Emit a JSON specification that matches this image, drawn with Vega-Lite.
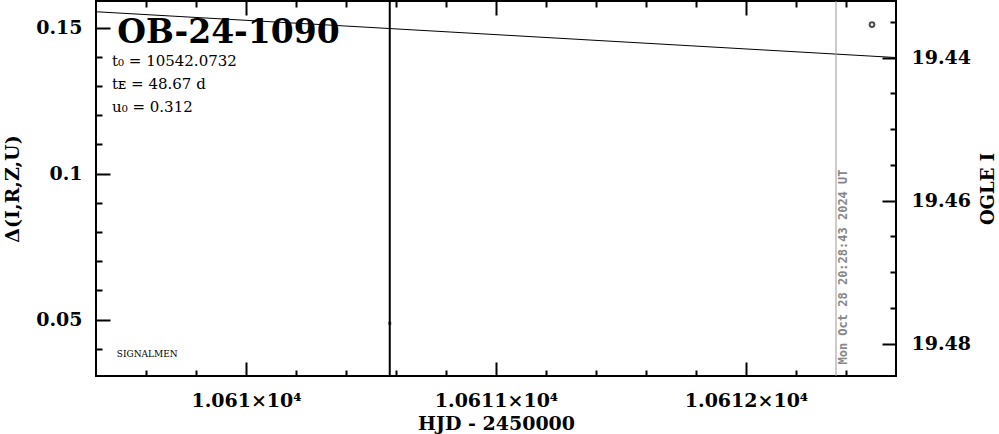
{
  "$schema": "https://vega.github.io/schema/vega-lite/v6.json",
  "width": 800,
  "height": 375,
  "autosize": {"type": "none"},
  "padding": {"left": 96, "top": 1, "right": 103, "bottom": 58},
  "background": "white",
  "config": {
    "view": {"stroke": "black", "strokeWidth": 2},
    "axis": {
      "grid": false,
      "domain": false,
      "tickColor": "black",
      "tickWidth": 2,
      "labelFont": "DejaVu Serif",
      "labelFontWeight": "bold",
      "labelFontSize": 19,
      "labelColor": "black",
      "titleFont": "DejaVu Serif",
      "titleFontWeight": "bold",
      "titleFontSize": 19,
      "titleColor": "black"
    }
  },
  "datasets": {
    "model": [
      {"hjd": 10609.4, "mag": 19.4336},
      {"hjd": 10609.8, "mag": 19.4344},
      {"hjd": 10610.2, "mag": 19.4352},
      {"hjd": 10610.6, "mag": 19.4360},
      {"hjd": 10611.0, "mag": 19.4368},
      {"hjd": 10611.4, "mag": 19.4376},
      {"hjd": 10611.8, "mag": 19.4384},
      {"hjd": 10612.2, "mag": 19.4392},
      {"hjd": 10612.6, "mag": 19.4400}
    ],
    "obs": [{"hjd": 10612.504, "mag": 19.4354}],
    "marker": [{"hjd": 10610.575}],
    "stamp": [{"hjd": 10612.36, "mag": 19.4829, "label": "Mon Oct 28 20:28:43 2024 UT"}],
    "delta": [{"hjd": 10610.575, "delta": 0.0487}],
    "event": [{"hjd": 10609.485, "delta": 0.1447, "label": "OB-24-1090"}],
    "params": [
      {"hjd": 10609.464, "delta": 0.1368, "label": "t₀ = 10542.0732"},
      {"hjd": 10609.464, "delta": 0.1289, "label": "tᴇ = 48.67 d"},
      {"hjd": 10609.464, "delta": 0.1211, "label": "u₀ = 0.312"}
    ],
    "credit": [{"hjd": 10609.483, "delta": 0.0372, "label": "SIGNALMEN"}]
  },
  "layer": [
    {
      "data": {"name": "model"},
      "mark": {"type": "line", "color": "black", "strokeWidth": 1},
      "encoding": {
        "x": {"field": "hjd", "type": "quantitative",
          "scale": {"domain": [10609.4, 10612.6], "nice": false, "zero": false},
          "axis": {"orient": "bottom", "values": [10610, 10611, 10612], "tickSize": -14, "labelPadding": 29,
            "labelExpr": "format(datum.value/10000, '.5~f') + '×10⁴'", "title": "HJD - 2450000", "titlePadding": 4}},
        "y": {"field": "mag", "type": "quantitative",
          "scale": {"domain": [19.4321, 19.4845], "reverse": true, "nice": false, "zero": false},
          "axis": {"orient": "right", "values": [19.44, 19.46, 19.48], "format": ".2f", "tickSize": -14, "labelPadding": 29,
            "title": "OGLE I", "titleAngle": 270, "titleBaseline": "top", "titlePadding": 9, "titleFontSize": 18}}
      }
    },
    {
      "data": {"name": "obs"},
      "mark": {"type": "point", "shape": "circle", "filled": false, "color": "black", "size": 22, "strokeWidth": 2},
      "encoding": {
        "x": {"field": "hjd", "type": "quantitative",
          "scale": {"domain": [10609.4, 10612.6], "nice": false, "zero": false},
          "axis": {"orient": "bottom", "values": [10609.6, 10609.8, 10610.2, 10610.4, 10610.6, 10610.8, 10611.2, 10611.4, 10611.6, 10611.8, 10612.2, 10612.4],
            "tickSize": -6, "labels": false, "title": null}},
        "y": {"field": "mag", "type": "quantitative",
          "scale": {"domain": [19.4321, 19.4845], "reverse": true, "nice": false, "zero": false},
          "axis": {"orient": "right", "values": [19.435, 19.445, 19.45, 19.455, 19.465, 19.47, 19.475],
            "tickSize": -6, "labels": false, "title": null}}
      }
    },
    {
      "data": {"name": "marker"},
      "mark": {"type": "rule", "color": "black", "strokeWidth": 2},
      "encoding": {
        "x": {"field": "hjd", "type": "quantitative",
          "scale": {"domain": [10609.4, 10612.6], "nice": false, "zero": false},
          "axis": {"orient": "top", "values": [10610, 10611, 10612], "tickSize": -14, "labels": false, "title": null}}
      }
    },
    {
      "data": {"name": "stamp"},
      "mark": {"type": "rule", "color": "#999999", "strokeWidth": 1},
      "encoding": {
        "x": {"field": "hjd", "type": "quantitative",
          "scale": {"domain": [10609.4, 10612.6], "nice": false, "zero": false},
          "axis": {"orient": "top", "values": [10609.6, 10609.8, 10610.2, 10610.4, 10610.6, 10610.8, 10611.2, 10611.4, 10611.6, 10611.8, 10612.2, 10612.4],
            "tickSize": -6, "labels": false, "title": null}}
      }
    },
    {
      "data": {"name": "delta"},
      "mark": {"type": "square", "filled": true, "color": "black", "size": 9},
      "encoding": {
        "x": {"field": "hjd", "type": "quantitative",
          "scale": {"domain": [10609.4, 10612.6], "nice": false, "zero": false}, "axis": null},
        "y": {"field": "delta", "type": "quantitative",
          "scale": {"domain": [0.03065, 0.15908], "nice": false, "zero": false},
          "axis": {"orient": "left", "values": [0.05, 0.1, 0.15], "format": ".2~f", "tickSize": -14, "labelPadding": 28,
            "title": "Δ(I,R,Z,U)", "titlePadding": 13}}
      }
    },
    {
      "data": {"name": "event"},
      "mark": {"type": "text", "align": "left", "baseline": "alphabetic", "font": "DejaVu Serif", "fontWeight": "bold", "fontSize": 33, "color": "black"},
      "encoding": {
        "x": {"field": "hjd", "type": "quantitative",
          "scale": {"domain": [10609.4, 10612.6], "nice": false, "zero": false}, "axis": null},
        "y": {"field": "delta", "type": "quantitative",
          "scale": {"domain": [0.03065, 0.15908], "nice": false, "zero": false},
          "axis": {"orient": "left", "values": [0.04, 0.06, 0.07, 0.08, 0.09, 0.11, 0.12, 0.13, 0.14],
            "tickSize": -6, "labels": false, "title": null}},
        "text": {"field": "label"}
      }
    },
    {
      "data": {"name": "params"},
      "mark": {"type": "text", "align": "left", "baseline": "alphabetic", "font": "DejaVu Serif", "fontSize": 15, "color": "black"},
      "encoding": {
        "x": {"field": "hjd", "type": "quantitative",
          "scale": {"domain": [10609.4, 10612.6], "nice": false, "zero": false}, "axis": null},
        "y": {"field": "delta", "type": "quantitative",
          "scale": {"domain": [0.03065, 0.15908], "nice": false, "zero": false}, "axis": null},
        "text": {"field": "label"}
      }
    },
    {
      "data": {"name": "credit"},
      "mark": {"type": "text", "align": "left", "baseline": "alphabetic", "font": "DejaVu Serif", "fontSize": 9, "color": "black"},
      "encoding": {
        "x": {"field": "hjd", "type": "quantitative",
          "scale": {"domain": [10609.4, 10612.6], "nice": false, "zero": false}, "axis": null},
        "y": {"field": "delta", "type": "quantitative",
          "scale": {"domain": [0.03065, 0.15908], "nice": false, "zero": false}, "axis": null},
        "text": {"field": "label"}
      }
    },
    {
      "data": {"name": "stamp"},
      "mark": {"type": "text", "angle": 270, "align": "left", "baseline": "top", "dy": 2, "font": "DejaVu Sans Mono", "fontWeight": "bold", "fontSize": 12, "color": "#888888"},
      "encoding": {
        "x": {"field": "hjd", "type": "quantitative",
          "scale": {"domain": [10609.4, 10612.6], "nice": false, "zero": false}, "axis": null},
        "y": {"field": "mag", "type": "quantitative",
          "scale": {"domain": [19.4321, 19.4845], "reverse": true, "nice": false, "zero": false}, "axis": null},
        "text": {"field": "label"}
      }
    }
  ],
  "resolve": {"scale": {"y": "independent"}, "axis": {"x": "independent", "y": "independent"}}
}
